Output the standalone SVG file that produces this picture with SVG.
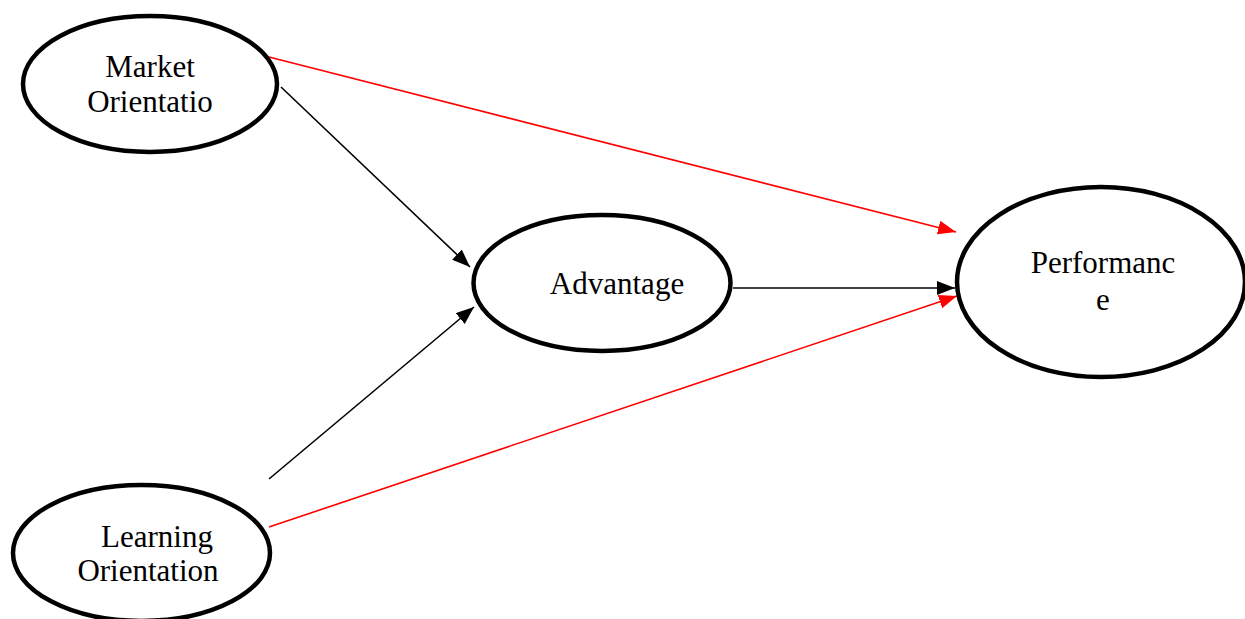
<svg xmlns="http://www.w3.org/2000/svg" width="1245" height="619" viewBox="0 0 1245 619">
<style>
.node{fill:#fff;stroke:#000;stroke-width:4.5}
.lbl{font-family:"Liberation Serif","Times New Roman",serif;font-size:31px;fill:#000;text-anchor:middle}
.blk{stroke:#000;stroke-width:1.6;fill:none}
.red{stroke:#f00;stroke-width:1.6;fill:none}
</style>
<defs>
<marker id="ab" markerUnits="userSpaceOnUse" markerWidth="19" markerHeight="15" refX="18" refY="7" orient="auto"><path d="M0,0 L18,7 L0,14 z" fill="#000"/></marker>
<marker id="ar" markerUnits="userSpaceOnUse" markerWidth="19" markerHeight="15" refX="18" refY="7" orient="auto"><path d="M0,0 L18,7 L0,14 z" fill="#f00"/></marker>
</defs>
<rect width="1245" height="619" fill="#fff"/>
<g id="connectors">
<line class="red" x1="269" y1="57" x2="956" y2="232" marker-end="url(#ar)"/>
<line class="blk" x1="281" y1="87" x2="470" y2="267" marker-end="url(#ab)"/>
<line class="blk" x1="269" y1="479" x2="474" y2="307" marker-end="url(#ab)"/>
<line class="blk" x1="733" y1="288" x2="955" y2="288" marker-end="url(#ab)"/>
<line class="red" x1="269" y1="527" x2="957" y2="296" marker-end="url(#ar)"/>
</g>
<g id="market">
<ellipse class="node" cx="150" cy="84" rx="127" ry="68"/>
<text class="lbl" x="150" y="77">Market</text>
<text class="lbl" x="150" y="112">Orientatio</text>
</g>
<g id="advantage">
<ellipse class="node" cx="602" cy="283" rx="128.5" ry="68"/>
<text class="lbl" x="617" y="294">Advantage</text>
</g>
<g id="performance">
<ellipse class="node" cx="1101" cy="282" rx="144" ry="95"/>
<text class="lbl" x="1103" y="273">Performanc</text>
<text class="lbl" x="1103" y="310">e</text>
</g>
<g id="learning">
<ellipse class="node" cx="141.5" cy="553" rx="128.5" ry="68"/>
<text class="lbl" x="157" y="547">Learning</text>
<text class="lbl" x="148" y="581">Orientation</text>
</g>
</svg>
